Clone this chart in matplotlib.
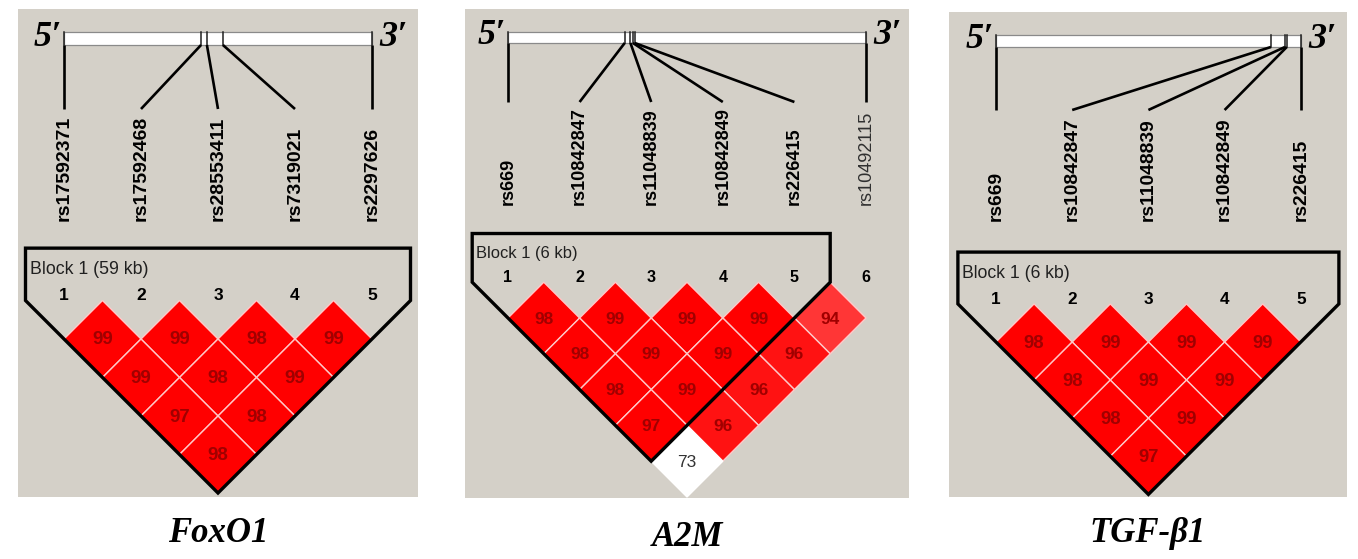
import matplotlib.pyplot as plt
from matplotlib.patches import Polygon, Rectangle

# --- data: SNP names, relative position on the gene bar, D' values (x100) per row
foxo1_snps = ["rs17592371", "rs17592468", "rs28553411", "rs7319021", "rs2297626"]
foxo1_pos = [0.0, 0.445, 0.464, 0.516, 1.0]
foxo1_ld = [[99, 99, 98, 99], [99, 98, 99], [97, 98], [98]]
foxo1_block = "Block 1 (59 kb)"

a2m_snps = ["rs669", "rs10842847", "rs11048839", "rs10842849", "rs226415", "rs10492115"]
a2m_pos = [0.0, 0.326, 0.342, 0.349, 0.354, 1.0]
a2m_ld = [[98, 99, 99, 99, 94], [98, 99, 99, 96], [98, 99, 96], [97, 96], [73]]
a2m_block = "Block 1 (6 kb)"

tgfb1_snps = ["rs669", "rs10842847", "rs11048839", "rs10842849", "rs226415"]
tgfb1_pos = [0.0, 0.902, 0.948, 0.954, 1.0]
tgfb1_ld = [[98, 99, 99, 99], [98, 99, 99], [98, 99], [97]]
tgfb1_block = "Block 1 (6 kb)"

genes = ["FoxO1", "A2M", "TGF-\u03b21"]

BG = "#d4d0c8"


def ld_color(v):
    if v < 80:
        return "white"
    t = max(0, 97 - v) * 0.07
    return (1.0, t, t)


def draw_panel(ax, snps, pos, ld, block_label, n_block, gene, bg, bar_y, line_y,
               lab_bottom, x1, s, row1, title_y, plain_last=False):
    k = s / 77.0
    n = len(snps)
    xs = [x1 + i * s for i in range(n)]
    h = s / 2.0

    ax.add_patch(Rectangle((bg[0], bg[1]), bg[2] - bg[0], bg[3] - bg[1],
                           facecolor=BG, edgecolor="none", zorder=0))

    # gene bar
    bx0, bx1 = xs[0], xs[-1]
    ax.add_patch(Rectangle((bx0, bar_y[0]), bx1 - bx0, bar_y[1] - bar_y[0],
                           facecolor="white", edgecolor="#8a8a8a", lw=0.9, zorder=1))
    for i, p in enumerate(pos):
        tx = bx0 + p * (bx1 - bx0)
        ax.plot([tx, tx], [bar_y[0], bar_y[1]], color="#202020", lw=1.1, zorder=2)
        ax.plot([tx, xs[i]], [bar_y[1], line_y], color="black", lw=1.9,
                solid_capstyle="butt", zorder=2)
        plain = plain_last and i == n - 1
        ax.text(xs[i], lab_bottom, snps[i], rotation=90, ha="center", va="bottom",
                fontsize=14 * k, family="Liberation Sans",
                fontweight="normal" if plain else "bold",
                color="#303030" if plain else "black")

    ax.text(xs[0] - 2, bar_y[1] + 1, "5\u2032", ha="right", va="baseline",
            fontsize=26, family=["Liberation Serif", "DejaVu Serif"],
            fontweight="bold", style="italic")
    ax.text(xs[-1] + 7, bar_y[1] + 1, "3\u2032", ha="left", va="baseline",
            fontsize=26, family=["Liberation Serif", "DejaVu Serif"],
            fontweight="bold", style="italic")

    # marker numbers
    for i in range(n):
        ax.text(xs[i], row1 - 0.56 * s, str(i + 1), ha="center", va="center",
                fontsize=12.5 * k, family="Liberation Sans", fontweight="bold")

    # LD diamonds
    for d, row in enumerate(ld, start=1):
        for i, v in enumerate(row):
            cx = (xs[i] + xs[i + d]) / 2.0
            cy = row1 + (d - 1) * h
            diamond = [(cx - h, cy), (cx, cy - h), (cx + h, cy), (cx, cy + h)]
            red = v >= 80
            ax.add_patch(Polygon(diamond, closed=True, facecolor=ld_color(v),
                                 edgecolor="#ffc8c8" if red else "white",
                                 lw=1.0, zorder=3))
            ax.text(cx, cy + 1, str(v), ha="center", va="center",
                    fontsize=13.5 * k, family="Liberation Sans",
                    fontweight="bold" if red else "normal",
                    color="#a00000" if red else "#333333", zorder=4)

    # block outline
    top = row1 - 1.18 * s
    left = xs[0] - h
    right = xs[n_block - 1] + h
    side = row1 - h
    apex_x = (left + right) / 2.0
    apex_y = side + (apex_x - left)
    ax.add_patch(Polygon([(left, side), (left, top), (right, top), (right, side),
                          (apex_x, apex_y)], closed=True, fill=False,
                         edgecolor="black", lw=2.4, joinstyle="miter", zorder=5))
    ax.text(xs[0] - 0.44 * s, row1 - 0.9 * s, block_label, ha="left", va="center",
            fontsize=12.8 * k, family="Liberation Sans", color="#202020")

    ax.text((bg[0] + bg[2]) / 2.0, title_y, gene, ha="center", va="center",
            fontsize=25, family=["Liberation Serif", "DejaVu Serif"],
            fontweight="bold", style="italic")


fig = plt.figure(figsize=(13.58, 5.59), dpi=100)
ax = fig.add_axes([0, 0, 1, 1])
ax.set_xlim(0, 1358)
ax.set_ylim(559, 0)
ax.axis("off")

draw_panel(ax, foxo1_snps, foxo1_pos, foxo1_ld, foxo1_block, 5, genes[0],
           (18, 9, 418, 497), (32, 45), 109, 221, 64, 77.0, 339, 533)
draw_panel(ax, a2m_snps, a2m_pos, a2m_ld, a2m_block, 5, genes[1],
           (465, 9, 909, 498), (32, 43), 102, 205, 508, 71.6, 318, 538,
           plain_last=True)
draw_panel(ax, tgfb1_snps, tgfb1_pos, tgfb1_ld, tgfb1_block, 5, genes[2],
           (949, 12, 1347, 497), (35, 47), 110, 221, 996, 76.2, 342, 533)

fig.savefig("out.png", dpi=100, facecolor="white")
